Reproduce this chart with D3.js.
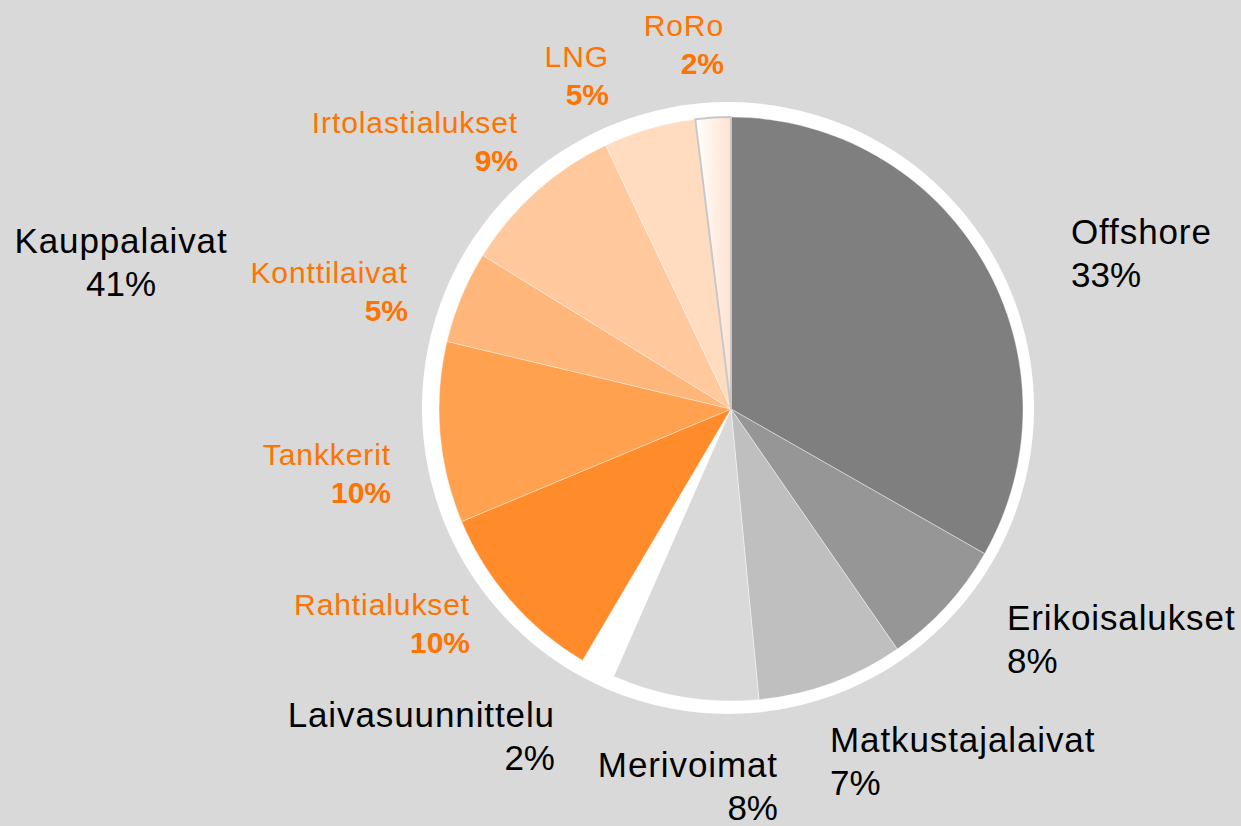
<!DOCTYPE html>
<html>
<head>
<meta charset="utf-8">
<script src="https://cdn.jsdelivr.net/npm/d3@7"></script>
<style>
  html, body { margin: 0; padding: 0; background: #d9d9d9; }
  svg { display: block; }
  text { font-family: "Liberation Sans", Arial, sans-serif; }
</style>
</head>
<body>
<div id="pie"></div>
<script>
// slice data, clockwise from 12 o'clock
const categories = ["Offshore", "Erikoisalukset", "Matkustajalaivat", "Merivoimat", "Laivasuunnittelu",
                    "Rahtialukset", "Tankkerit", "Konttilaivat", "Irtolastialukset", "LNG", "RoRo"];
const values = [33.2, 7.1, 8.1, 8.1, 1.9, 10.2, 10.0, 5.1, 9.1, 5.1, 1.95];
const pctLabels = ["33%", "8%", "7%", "8%", "2%", "10%", "10%", "5%", "9%", "5%", "2%"];
const colors = ["#7f7f7f", "#969696", "#bfbfbf", "#d9d9d9", "#ffffff",
                "#ff8b2b", "#ffa14f", "#ffb67b", "#ffc89d", "#ffdcc0", "url(#roro)"];
// orange = merchant ship subgroup
const isMerchant = [false, false, false, false, false, true, true, true, true, true, true];

const groupLabel = "Kauppalaivat";
const groupPct = "41%";

// label anchors: x, baseline y, text-anchor
const labelPos = [
  [1071, 244, "start"],
  [1007, 630, "start"],
  [830, 752, "start"],
  [778, 777, "end"],
  [555, 727, "end"],
  [470, 615, "end"],
  [391, 465, "end"],
  [408, 283, "end"],
  [518, 133, "end"],
  [609, 67, "end"],
  [724, 36, "end"]
];

const width = 1241, height = 826;
const cx = 731, cy = 409, radius = 292;

const svg = d3.select("#pie").append("svg")
    .attr("width", width)
    .attr("height", height);

const grad = svg.append("defs").append("linearGradient")
    .attr("id", "roro")
    .attr("x1", "0%").attr("x2", "100%").attr("y1", "0%").attr("y2", "0%");
grad.append("stop").attr("offset", "0%").attr("stop-color", "#ffffff");
grad.append("stop").attr("offset", "100%").attr("stop-color", "#ffe2cf");

// white ring behind the pie
svg.append("circle")
    .attr("cx", cx - 3)
    .attr("cy", cy - 1)
    .attr("r", 306)
    .attr("fill", "#ffffff");

const g = svg.append("g").attr("transform", `translate(${cx},${cy})`);

const pie = d3.pie().sort(null).value(d => d);
const arc = d3.arc().innerRadius(0).outerRadius(radius);

g.selectAll("path")
    .data(pie(values))
    .enter().append("path")
    .attr("d", arc)
    .attr("fill", (d, i) => colors[i])
    .attr("stroke", (d, i) => i === 10 ? "#c8c8c8" : "#ffffff")
    .attr("stroke-width", (d, i) => i === 10 ? 2 : 0.4)
    .attr("stroke-linejoin", "round");

// labels
const lab = svg.append("g");
categories.forEach((c, i) => {
  const [x, y, anchor] = labelPos[i];
  const orange = isMerchant[i];
  const t = lab.append("text")
      .attr("x", x)
      .attr("y", y)
      .attr("text-anchor", anchor)
      .attr("fill", orange ? "#ff7300" : "#000000")
      .style("font-size", orange ? "30px" : "35px");
  t.append("tspan").attr("x", x)
      .style("letter-spacing", "0.9px")
      .text(c);
  t.append("tspan").attr("x", x)
      .attr("dy", orange ? 38 : 43)
      .style("font-weight", orange ? "bold" : "normal")
      .text(pctLabels[i]);
});

const gt = lab.append("text")
    .attr("x", 121)
    .attr("y", 253)
    .attr("text-anchor", "middle")
    .attr("fill", "#000000")
    .style("font-size", "35px");
gt.append("tspan").attr("x", 121).style("letter-spacing", "0.9px").text(groupLabel);
gt.append("tspan").attr("x", 121).attr("dy", 43).text(groupPct);
</script>
</body>
</html>
